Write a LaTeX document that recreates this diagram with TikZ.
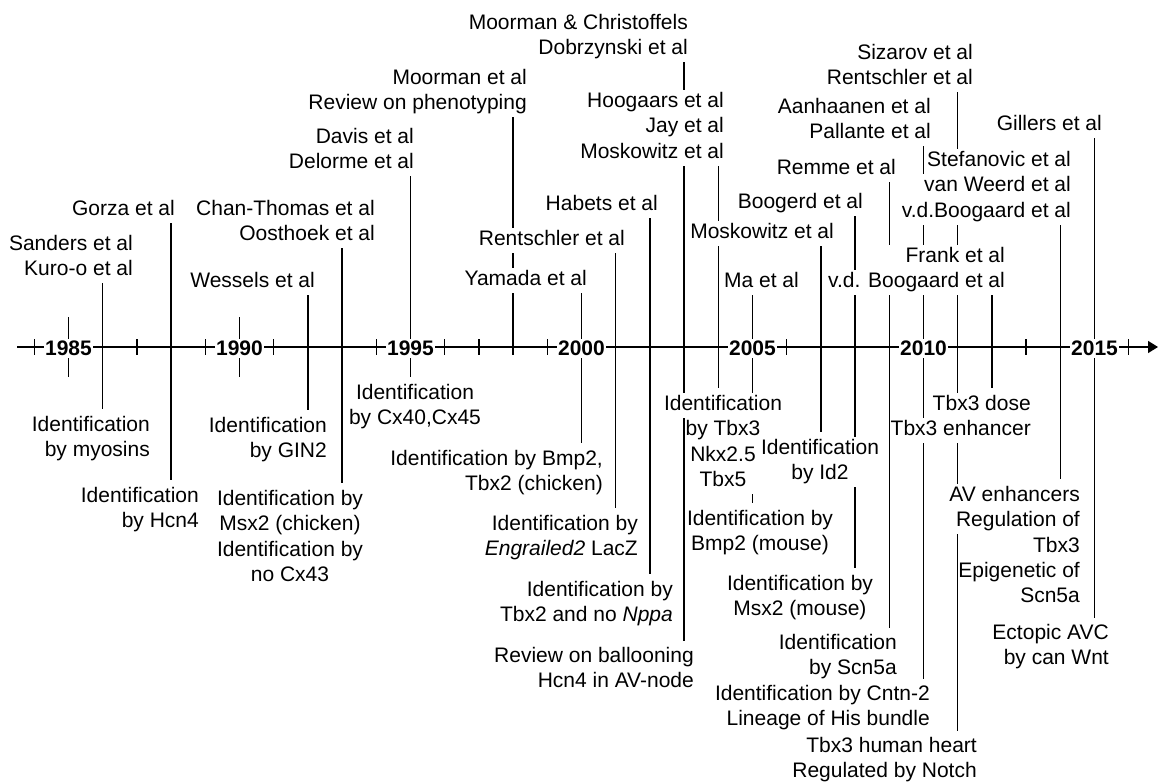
\documentclass[tikz,border=0pt]{standalone}
\usepackage{fontspec}
\setmainfont{Liberation Sans}
\usetikzlibrary{arrows.meta,calc}
\setlength{\fboxsep}{0pt}
\newcommand\wl[1]{\colorbox{white}{\strut#1}}
\newcommand\padl[1]{\llap{\colorbox{white}{\strut\kern#1}}}
\newcommand\padr[1]{\rlap{\colorbox{white}{\strut\kern#1}}}
\pgfdeclarelayer{lines}
\pgfsetlayers{lines,main}
\begin{document}
\begin{tikzpicture}[x=1pt,y=-1pt,
  lbl/.style={inner sep=0pt, font=\fontsize{21}{25.3}\selectfont},
  lr/.style={lbl, align=right, anchor=north east},
  lc/.style={lbl, align=center, anchor=north},
  yr/.style={font=\fontsize{21}{25}\selectfont\bfseries, fill=white, inner xsep=1pt, inner ysep=2pt, text height=15pt, text depth=0pt},
  ev/.style={line width=1.5pt}]
\useasboundingbox (0,0) rectangle (1163,783);

% axis coordinates
\coordinate (axL) at (17,347);
\coordinate (axR) at (1158,347);
\foreach \yr in {1984,...,2016} \coordinate (Y\yr) at ({68.5+34.2*(\yr-1985)},347.5);

% year labels
\foreach \yr in {1985,1990,1995,2000,2005,2010,2015}
  \node[yr] (L\yr) at ($(Y\yr)+(0,1)$) {\yr};

% labels above the axis
\node[lr] (sand) at (133,232.5) {\wl{Sanders et al}\\\wl{Kuro-o et al}};
\node[lr] (gorza) at (175,197.5) {\wl{Gorza et al}};
\node[lr] (wess) at (315,269.5) {\wl{Wessels et al}};
\node[lr] (chan) at (375,197.5) {\wl{Chan-Thomas et al}\\\wl{Oosthoek et al}};
\node[lr] (davis) at (414,125.5) {\wl{Davis et al}\\\wl{Delorme et al}};
\node[lr] (moor) at (527,66.5) {\wl{Moorman et al}\\\wl{Review on phenotyping}};
\node[lr] (rent1) at (625,227.5) {\wl{Rentschler et al}};
\node[lr] (yam) at (587,267.5) {\wl{Yamada et al}};
\node[lr] (hab) at (658,192.5) {\wl{Habets et al}};
\node[lr] (mc) at (688,11.5) {\wl{Moorman \& Christoffels}\\\wl{Dobrzynski et al}};
\node[lr] (hoog) at (724,89.5) {\wl{Hoogaars et al}\\\wl{Jay et al}\\\wl{Moskowitz et al}};
\node[lr] (mosk2) at (834,220.5) {\wl{Moskowitz et al}};
\node[lr] (ma) at (799,269.5) {\wl{Ma et al}};
\node[lr] (boog) at (863,190.5) {\wl{Boogerd et al}};
\node[lr] (remme) at (896,156.5) {\wl{Remme et al}};
\node[lr] (aan) at (931,95.5) {\wl{Aanhaanen et al}\\\wl{Pallante et al}};
\node[lr] (siz) at (973,41.5) {\wl{Sizarov et al}\\\wl{Rentschler et al}};
\node[lr] (stef) at (1071,148.5) {\wl{Stefanovic et al}\\\padl{3pt}\wl{van Weerd et al}\\\wl{v.d.Boogaard et al}};
\node[lr] (frank) at (1005,244.5) {\padl{22pt}\wl{Frank et al}\\\wl{v.d. Boogaard et al}};
\node[lr] (gill) at (1102,112.5) {\wl{Gillers et al}};

% labels below the axis
\node[lr] (myo) at (150,413.5) {\wl{Identification}\\\wl{by myosins}};
\node[lr] (hcn) at (199,484.5) {\wl{Identification}\\\wl{by Hcn4}};
\node[lr] (gin) at (327,414.5) {\wl{Identification}\\\wl{by GIN2}};
\node[lc] (msxc) at (290,487.5) {\wl{Identification by}\\\wl{Msx2 (chicken)}\\\wl{Identification by}\\\wl{no Cx43}};
\node[lc] (cx) at (415,381.5) {\wl{Identification}\\\wl{by Cx40,Cx45}};
\node[lr] (bmpc) at (603,447.5) {\wl{Identification by Bmp2,}\\\wl{Tbx2 (chicken)}};
\node[lr] (eng) at (638,512.5) {\wl{Identification by}\\\wl{\textit{Engrailed2} LacZ}};
\node[lr] (nppa) at (673,578.5) {\wl{Identification by}\\\wl{Tbx2 and no \textit{Nppa}}};
\node[lr] (ball) at (694,644.5) {\wl{Review on ballooning}\\\wl{Hcn4 in AV-node}};
\node[lc] (tbx3) at (723,392.5) {\wl{Identification}\\\wl{by Tbx3}\\\wl{Nkx2.5}\\\wl{Tbx5}\padr{9pt}};
\node[lc] (bmpm) at (760,507.5) {\wl{Identification by}\\\wl{Bmp2 (mouse)}};
\node[lc, fill=white] (id2) at (820,436.5) {\wl{Identification}\\\wl{by Id2}};
\node[lc] (msxm) at (800,572.5) {\wl{Identification by}\\\wl{Msx2 (mouse)}};
\node[lr] (scn) at (897,631.5) {\wl{Identification}\\\wl{by Scn5a}};
\node[lr] (cntn) at (930,682.5) {\wl{Identification by Cntn-2}\\\wl{Lineage of His bundle}};
\node[lr] (hum) at (977,734.5) {\wl{Tbx3 human heart}\\\wl{Regulated by Notch}};
\node[lr] (dose) at (1031,392.5) {\wl{Tbx3 dose}\\\wl{Tbx3 enhancer}};
\node[lr] (aven) at (1080,483.5) {\wl{AV enhancers}\\\wl{Regulation of}\\\wl{Tbx3}\\\wl{Epigenetic of}\\\wl{Scn5a}};
\node[lr] (ect) at (1109,621.5) {\wl{Ectopic AVC}\\\wl{by can Wnt}};

\begin{pgfonlayer}{lines}
  \fill[white] (0,0) rectangle (1163,783);
  \draw[ev,-{Triangle[length=10pt,width=12pt]}] (axL) -- (axR);
  \foreach \yr in {1984,1987,1989,1991,1994,1996,1997,1999,2006,2013,2016}
    \draw[ev] ($(Y\yr)+(0,-8)$) -- ($(Y\yr)+(0,8)$);
  \foreach \yr in {1985,1990}
    \draw[ev] ($(Y\yr)+(0,-30)$) -- ($(Y\yr)+(0,30)$);
  \draw[ev] (sand.south -| Y1986) -- ($(myo.north -| Y1986)+(0,-4)$);
  \draw[ev] (gorza.south -| Y1988) -- ($(hcn.north -| Y1988)+(0,-4)$);
  \draw[ev] (wess.south -| Y1992) -- ($(gin.north -| Y1992)+(0,-4)$);
  \draw[ev] (chan.south -| Y1993) -- ($(msxc.north -| Y1993)+(0,-4)$);
  \draw[ev] (davis.south -| Y1995) -- ($(Y1995)+(0,30)$);
  \draw[ev] (moor.south -| Y1998) -- ($(Y1998)+(0,8)$);
  \draw[ev] (yam.south -| Y2000) -- ($(bmpc.north -| Y2000)+(0,-4)$);
  \draw[ev] (rent1.south -| Y2001) -- ($(eng.north -| Y2001)+(0,-4)$);
  \draw[ev] (hab.south -| Y2002) -- ($(nppa.north -| Y2002)+(0,-4)$);
  \draw[ev] (mc.south -| Y2003) -- ($(ball.north -| Y2003)+(0,-4)$);
  \draw[ev] (hoog.south -| Y2004) -- ($(tbx3.north -| Y2004)+(0,-4)$);
  \draw[ev] (ma.south -| Y2005) -- ($(bmpm.north -| Y2005)+(0,-4)$);
  \draw[ev] (mosk2.south -| Y2007) -- ($(id2.north -| Y2007)+(0,-4)$);
  \draw[ev] (boog.south -| Y2008) -- ($(msxm.north -| Y2008)+(0,-4)$);
  \draw[ev] (remme.south -| Y2009) -- ($(scn.north -| Y2009)+(0,-4)$);
  \draw[ev] (aan.south -| Y2010) -- ($(cntn.north -| Y2010)+(0,-4)$);
  \draw[ev] (siz.south -| Y2011) -- ($(hum.north -| Y2011)+(0,-4)$);
  \draw[ev] (frank.south -| Y2012) -- ($(dose.north -| Y2012)+(0,-4)$);
  \draw[ev] (stef.south -| Y2014) -- ($(aven.north -| Y2014)+(0,-4)$);
  \draw[ev] (gill.south -| Y2015) -- ($(ect.north -| Y2015)+(0,-4)$);
\end{pgfonlayer}
\end{tikzpicture}
\end{document}
